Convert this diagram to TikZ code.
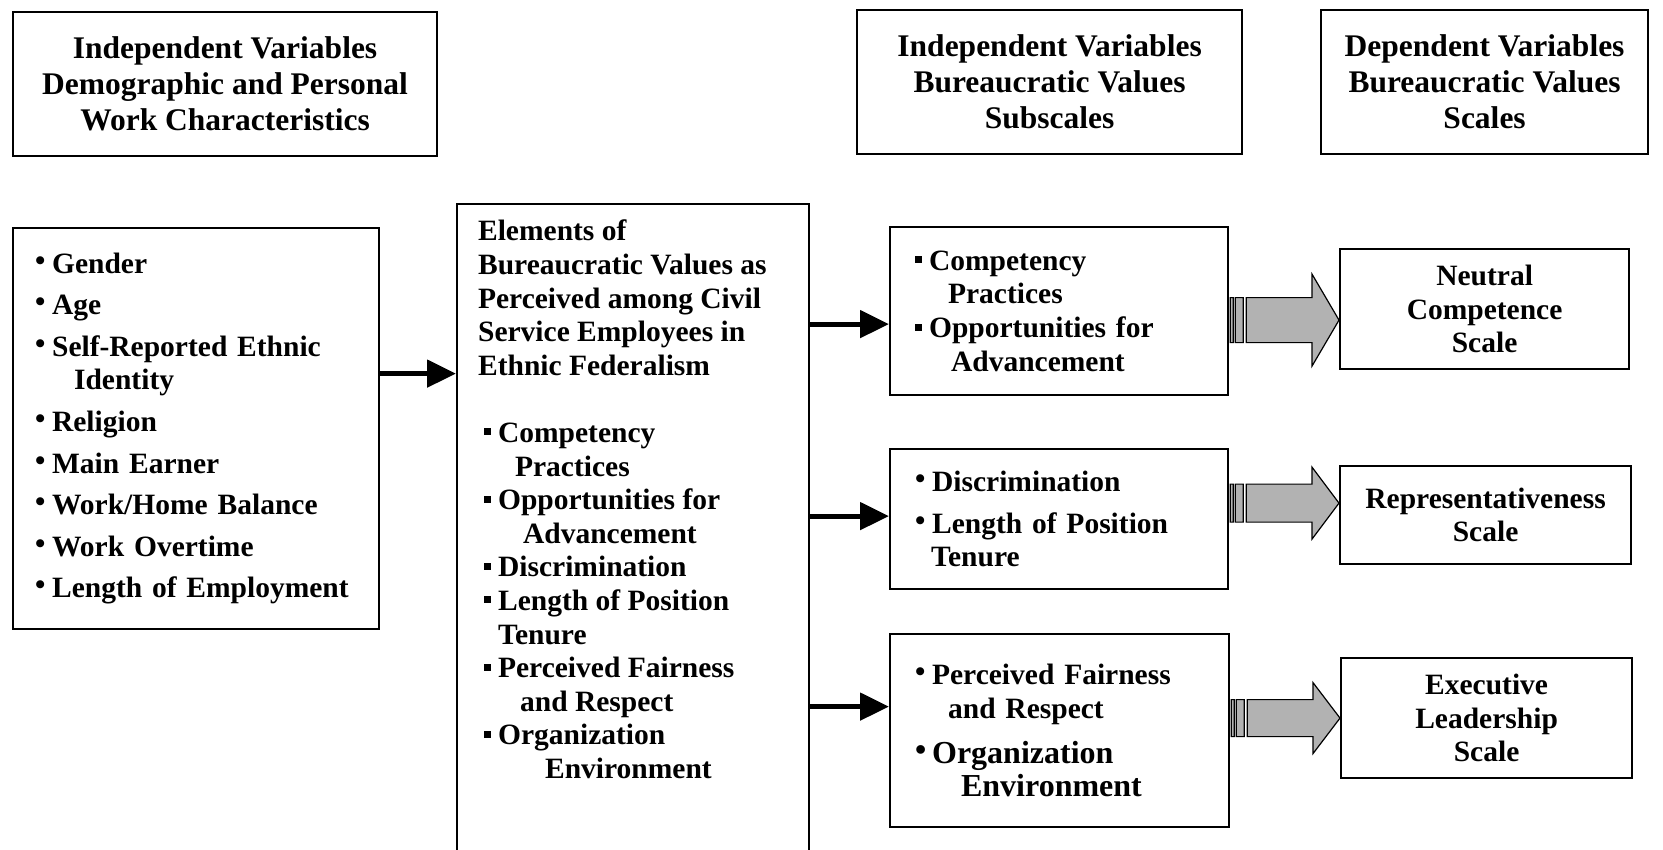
\documentclass[tikz,border=0pt]{standalone}
\usepackage{fontspec}
\setmainfont{Liberation Serif}
\usetikzlibrary{positioning,arrows.meta,calc}

% bullets
\newcommand{\dotitem}{\makebox[17pt][l]{\raisebox{3pt}{\textbullet}}}
\newcommand{\sqitem}{\hspace*{6pt}\makebox[14pt][l]{\rule[7pt]{7pt}{7pt}}}
% striped block arrow: box it leaves, tip, half body, half head
\newcommand{\stripedarrow}[4]{%
  \path[stripe] let \p1=(#1.east), \p2=(#2) in
    (\x1+1pt,\y2-#3) rectangle (\x1+4pt,\y2+#3)
    (\x1+6pt,\y2-#3) rectangle (\x1+14pt,\y2+#3)
    (\x1+17pt,\y2-#3) -- (\x2-27pt,\y2-#3) -- (\x2-27pt,\y2-#4)
    -- (\x2,\y2) -- (\x2-27pt,\y2+#4) -- (\x2-27pt,\y2+#3)
    -- (\x1+17pt,\y2+#3) -- cycle;}

\begin{document}
\begin{tikzpicture}[x=1pt,y=-1pt,
    box/.style={draw, line width=2.2pt, inner sep=0pt, anchor=north west,
      font=\bfseries\fontsize{29.5}{33.6}\selectfont},
    headbox/.style={box, align=center, font=\bfseries\fontsize{31.5}{36}\selectfont},
    listbox/.style={box, align=left},
    scalebox/.style={box, align=center},
    link/.style={line width=5pt, -{Triangle[length=29pt,width=27pt]}},
    stripe/.style={draw=black, line width=1.2pt, fill=gray!60}]
    \path[use as bounding box, clip] (0,0) rectangle (1663,849);

    % Cabecalhos
    \node[headbox, minimum width=424pt, minimum height=144pt] (hdemo) at (12,11)
      {Independent Variables\\Demographic and Personal\\Work Characteristics};
    \node[headbox, minimum width=385pt, minimum height=144pt] (hsub) at (856,9)
      {Independent Variables\\Bureaucratic Values\\Subscales};
    \node[headbox, minimum width=327pt, minimum height=144pt] (hdep) at (1320,9)
      {Dependent Variables\\Bureaucratic Values\\Scales};

    % Demographic list
    \node[listbox, minimum height=401pt, text width=322pt, inner xsep=22pt] (demo) at (12,227)
      {\dotitem Gender\\[8pt]
       \dotitem Age\\[8pt]
       \dotitem Self-Reported Ethnic\\
       \hspace*{39pt}Identity\\[8pt]
       \dotitem Religion\\[8pt]
       \dotitem Main Earner\\[8pt]
       \dotitem Work/Home Balance\\[8pt]
       \dotitem Work Overtime\\[8pt]
       \dotitem Length of Employment};

    % Elements
    \node[box, inner xsep=21pt] (elem) at (456,203)
      {\parbox[c][700pt][t]{310pt}{\raggedright\vspace*{16pt}%
       Elements of\\
       Bureaucratic Values as\\
       Perceived among Civil\\
       Service Employees in\\
       Ethnic Federalism\\[33.6pt]
       \sqitem Competency\\
       \hspace*{37pt}Practices\\
       \sqitem Opportunities for\\
       \hspace*{45pt}Advancement\\
       \sqitem Discrimination\\
       \sqitem Length of Position\\
       \hspace*{20pt}Tenure\\
       \sqitem Perceived Fairness\\
       \hspace*{42pt}and Respect\\
       \sqitem Organization\\
       \hspace*{67pt}Environment}};

    % Subscales
    \node[listbox, minimum height=168pt, text width=300pt, inner xsep=19pt] (subA) at (889,226)
      {\sqitem Competency\\
       \hspace*{39pt}Practices\\
       \sqitem Opportunities for\\
       \hspace*{42pt}Advancement};
    \node[listbox, minimum height=140pt, text width=288pt, inner xsep=25pt] (subB) at (889,448)
      {\dotitem Discrimination\\[8pt]
       \dotitem Length of Position\\
       \hspace*{16pt}Tenure};
    \node[listbox, minimum height=193pt, text width=289pt, inner xsep=25pt] (subC) at (889,633)
      {\dotitem Perceived Fairness\\
       \hspace*{33pt}and Respect\\[9pt]
       {\fontsize{32}{36}\selectfont\dotitem Organization\\
       \hspace*{46pt}Environment}};

    % Scales
    \node[scalebox, minimum width=289pt, minimum height=120pt] (scaleA) at (1339,248)
      {Neutral\\Competence\\Scale};
    \node[scalebox, minimum width=291pt, minimum height=98pt] (scaleB) at (1339,465)
      {Representativeness\\Scale};
    \node[scalebox, minimum width=291pt, minimum height=120pt] (scaleC) at (1340,657)
      {Executive\\Leadership\\Scale};

    % Setas
    \draw[link] ([yshift=55pt]demo.east) -- ([yshift=55pt]demo.east -| elem.west);
    \coordinate (inA) at ($(subA.west)+(0,13)$);
    \coordinate (inB) at ($(subB.west)+(0,-3)$);
    \coordinate (inC) at ($(subC.west)+(0,-24)$);
    \foreach \c in {inA,inB,inC}
      \draw[link] (elem.east |- \c) -- (\c);

    % Block arrows
    \coordinate (tipA) at ($(scaleA.west)+(0,11)$);
    \coordinate (tipB) at ($(scaleB.west)+(0,-12)$);
    \coordinate (tipC) at (scaleC.west);
    \stripedarrow{subA}{tipA}{22.5pt}{46pt}
    \stripedarrow{subB}{tipB}{19pt}{36pt}
    \stripedarrow{subC}{tipC}{18.5pt}{35.5pt}
\end{tikzpicture}
\end{document}
